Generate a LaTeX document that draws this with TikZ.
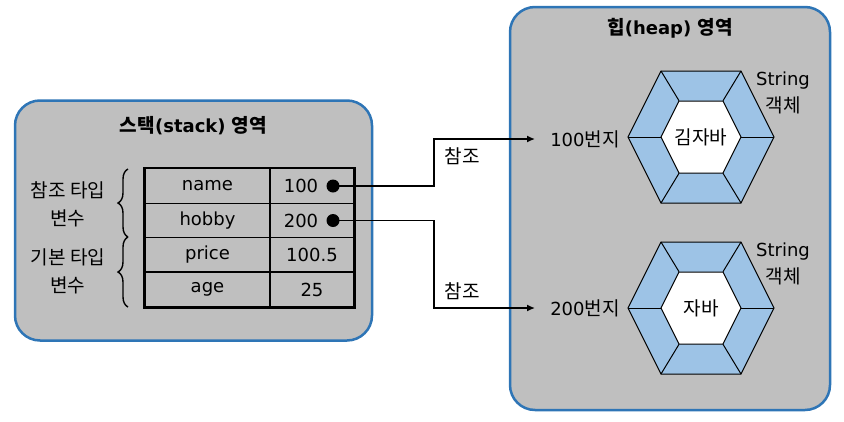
\documentclass[tikz,border=0pt]{standalone}
\usepackage{fontspec}
\setmainfont{DejaVu Sans}
\newfontfamily\hangul[Scale=1.06]{Noto Sans CJK KR}
\usetikzlibrary{positioning,arrows.meta,fit,decorations.pathreplacing}
\definecolor{AreaBlue}{RGB}{46,117,182}
\definecolor{AreaGray}{RGB}{191,191,191}
\definecolor{HexBlue}{RGB}{157,195,230}

\begin{document}
\begin{tikzpicture}[
  x=1pt, y=-1pt,
  every node/.style={font=\fontsize{18}{27}\selectfont, align=center, inner sep=2pt},
  area/.style={draw=AreaBlue, line width=2.5pt, fill=AreaGray, rounded corners=25pt},
  title/.style={font=\fontsize{18}{27}\selectfont\bfseries},
  namecell/.style={draw, line width=1.2pt, minimum width=125pt, minimum height=34.75pt, inner sep=0pt},
  valcell/.style={draw, line width=1.2pt, minimum width=84pt, minimum height=34.75pt, inner sep=0pt},
  dot/.style={circle, fill, minimum size=13pt, inner sep=0pt},
  ref/.style={-{Latex[length=8pt, width=7pt]}, line width=1.8pt, shorten >=13pt},
  curly/.style={decorate, decoration={brace, amplitude=10pt}, line width=1.4pt},
  hexobj/.pic={
    \filldraw[fill=HexBlue, line width=1pt] (-73,0) -- (-40,-66) -- (40,-66) -- (73,0) -- (40,66) -- (-40,66) -- cycle;
    \filldraw[fill=white, line width=1pt] (-40,0) -- (-22,-36) -- (22,-36) -- (40,0) -- (22,36) -- (-22,36) -- cycle;
    \foreach \px/\py in {73/0,40/66,-40/66,-73/0,-40/-66,40/-66}
      \draw[line width=1pt] (\px,\py) -- (0.55*\px,0.55*\py);
  }
]
\useasboundingbox (0,0) rectangle (844,421);

% stack area
\node[area, minimum width=357pt, minimum height=240pt] (stack) at (193.5,220.5) {};
\node[title] (stacktitle) at ([yshift=-26pt]stack.north) {{\hangul 스택}(stack) {\hangul 영역}};

\node[namecell] (n1) at (207.5,186) {name};
\node[namecell] (n2) at (207.5,220.5) {hobby};
\node[namecell] (n3) at (207.5,254.5) {price};
\node[namecell] (n4) at (207.5,289.5) {age};
\node[valcell] (v1) at (312,186) {};
\node[valcell] (v2) at (312,220.5) {};
\node[valcell] (v3) at (312,254.5) {100.5};
\node[valcell] (v4) at (312,289.5) {25};
\node[draw, line width=2.6pt, inner sep=0pt, fit=(n1)(v4)] (table) {};

\node (val1) at (301,186) {100};
\node (val2) at (301,220.5) {200};
\node[dot] (dot1) at (333,186) {};
\node[dot] (dot2) at (333,220.5) {};

\draw[curly] (128,237) -- (128,169);
\draw[curly] (128,307) -- (128,237);
\node[font=\fontsize{18}{28}\hangul] (reftype) at (68,204) {참조 타입\\변수};
\node[font=\fontsize{18}{28}\hangul] (basetype) at (68,271) {기본 타입\\변수};

% heap area
\node[area, minimum width=320pt, minimum height=403pt] (heap) at (670,208.5) {};
\node[title] (heaptitle) at ([yshift=-23pt]heap.north) {{\hangul 힙}(heap) {\hangul 영역}};

\pic (hex1) at (701,137) {hexobj};
\pic (hex2) at (701,308) {hexobj};
\node[font=\fontsize{18}{27}\hangul] (obj1) at (701,137) {김자바};
\node[font=\fontsize{18}{27}\hangul] (obj2) at (701,308) {자바};
\node (kind1) at (783,93) {String\\{\hangul 객체}};
\node (kind2) at (783,264) {String\\{\hangul 객체}};

\node (addr1) at (585,139) {100{\hangul 번지}};
\node (addr2) at (585,308) {200{\hangul 번지}};

% references
\draw[ref] (dot1.center) -- ++(101,0) |- (addr1);
\draw[ref] (dot2.center) -- ++(101,0) |- (addr2);
\node[font=\fontsize{18}{27}\hangul] (ref1) at (462,156) {참조};
\node[font=\fontsize{18}{27}\hangul] (ref2) at (462,291) {참조};
\end{tikzpicture}
\end{document}
